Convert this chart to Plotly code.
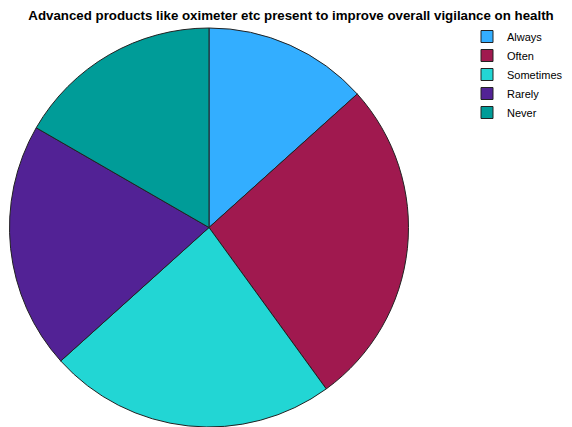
import plotly.graph_objects as go

categories = ["Always", "Often", "Sometimes", "Rarely", "Never"]
counts = [8, 16, 14, 12, 10]
colors = ["#33AEFF", "#A0194F", "#22D6D4", "#522295", "#009C98"]

W, H = 572, 427
top, bottom = 28, 0
ph = H - top - bottom
cx = 209
x0 = (cx - ph / 2) / W
x1 = (cx + ph / 2) / W

fig = go.Figure(go.Pie(
    labels=categories,
    values=counts,
    sort=False,
    direction="clockwise",
    rotation=0,
    textinfo="none",
    hoverinfo="label+value",
    marker=dict(colors=colors, line=dict(color="#222222", width=1)),
    domain=dict(x=[x0, x1], y=[0, 1]),
))

fig.update_layout(
    width=W, height=H,
    margin=dict(l=0, r=0, t=top, b=bottom, autoexpand=False),
    paper_bgcolor="white",
    plot_bgcolor="white",
    title=dict(
        text="<b>Advanced products like oximeter etc present to improve overall vigilance on health</b>",
        x=291 / W, xanchor="center",
        y=1 - 15.5 / H, yanchor="middle", yref="container",
        font=dict(family="Arial, Liberation Sans, sans-serif", size=13.3, color="black"),
    ),
    legend=dict(
        x=467 / W, xanchor="left",
        y=1 + 6 / ph, yanchor="top",
        font=dict(family="Arial, Liberation Sans, sans-serif", size=11, color="black"),
        bgcolor="rgba(0,0,0,0)",
        itemwidth=30,
        tracegroupgap=0,
    ),
    showlegend=True,
)

fig.write_html("out.html")
